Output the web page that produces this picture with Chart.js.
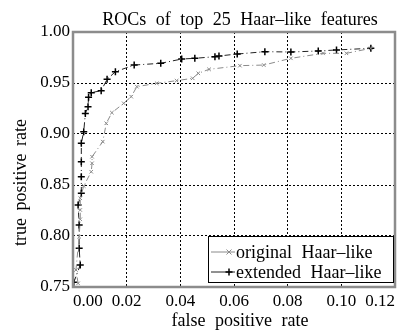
<!DOCTYPE html>
<html>
<head>
<meta charset="utf-8">
<script src="https://cdn.jsdelivr.net/npm/chart.js@4"></script>
<style>
  html, body { margin: 0; padding: 0; background: #fff; }
  #wrap { width: 403px; height: 331px; }
</style>
</head>
<body>
<div id="wrap"><canvas id="roc"></canvas></div>
<script>
// --- DATA ---
const titleText = 'ROCs of top 25 Haar–like features';
const xTitle = 'false positive rate';
const yTitle = 'true positive rate';
const seriesNames = ['original Haar–like', 'extended Haar–like'];

const fprOriginal = [0.0019, 0.0011, 0.0023, 0.0027, 0.0027, 0.0027, 0.0040, 0.0068, 0.0071, 0.0071,
  0.0111, 0.0124, 0.0145, 0.0189, 0.0217, 0.0238, 0.0312, 0.0386, 0.0446, 0.0467,
  0.0507, 0.0622, 0.0711, 0.0812, 0.0932, 0.1019, 0.1110];
const tprOriginal = [0.7536, 0.7667, 0.7993, 0.8164, 0.8255, 0.8370, 0.8490, 0.8630, 0.8713, 0.8777,
  0.8925, 0.9105, 0.9209, 0.9301, 0.9366, 0.9464, 0.9497, 0.9523, 0.9546, 0.9595,
  0.9634, 0.9670, 0.9676, 0.9742, 0.9791, 0.9791, 0.9840];

const fprExtended = [0.0003, 0.0027, 0.0023, 0.0023, 0.0019, 0.0031, 0.0031, 0.0031, 0.0031, 0.0040,
  0.0046, 0.0056, 0.0058, 0.0068, 0.0105, 0.0127, 0.0158, 0.0228, 0.0327, 0.0405,
  0.0454, 0.0529, 0.0544, 0.0612, 0.0715, 0.0812, 0.0914, 0.0982, 0.1110];
const tprExtended = [0.7546, 0.7716, 0.7880, 0.8108, 0.8304, 0.8419, 0.8581, 0.8728, 0.8909, 0.9023,
  0.9201, 0.9268, 0.9360, 0.9405, 0.9425, 0.9536, 0.9611, 0.9676, 0.9693, 0.9735,
  0.9742, 0.9758, 0.9765, 0.9784, 0.9807, 0.9804, 0.9814, 0.9824, 0.9840];

const toPoints = (xs, ys) => xs.map((x, i) => ({ x, y: ys[i] }));

const SERIF = '"Liberation Serif", "DejaVu Serif", serif';
const GRAY = '#8a8a8a';

// frame around the plot area
const framePlugin = {
  id: 'frame',
  afterDatasetsDraw(chart) {
    const { ctx, chartArea: a } = chart;
    ctx.save();
    ctx.strokeStyle = '#8c8c8c';
    ctx.lineWidth = 2.5;
    ctx.strokeRect(a.left, a.top, a.right - a.left, a.bottom - a.top);
    ctx.restore();
  }
};

// title and axis titles, placed like the original figure
const labels = {
  id: 'labels',
  afterDraw(chart) {
    const { ctx, chartArea: a } = chart;
    const cx = (a.left + a.right) / 2 + 6;
    ctx.save();
    ctx.fillStyle = '#000';
    ctx.font = '18px ' + SERIF;
    ctx.wordSpacing = '5px';
    ctx.textAlign = 'center';
    ctx.textBaseline = 'alphabetic';
    ctx.fillText(titleText, cx, a.top - 7);
    ctx.fillText(xTitle, cx, a.bottom + 39);
    ctx.translate(26, (a.top + a.bottom) / 2 + 23);
    ctx.rotate(-Math.PI / 2);
    ctx.wordSpacing = '3px';
    ctx.fillText(yTitle, 0, 0);
    ctx.restore();
  }
};

// legend box in the lower right corner
const boxLegend = {
  id: 'boxLegend',
  afterDraw(chart) {
    const { ctx, chartArea: a } = chart;
    const x0 = a.right - 187, y0 = a.bottom - 51, w = 185, h = 46;
    ctx.save();
    ctx.fillStyle = '#fff';
    ctx.fillRect(x0, y0, w, h);
    ctx.strokeStyle = '#000';
    ctx.lineWidth = 1;
    ctx.strokeRect(x0 + 0.5, y0 + 0.5, w, h);
    ctx.font = '18px ' + SERIF;
    ctx.wordSpacing = '5px';
    ctx.textBaseline = 'middle';
    chart.data.datasets.forEach((ds, i) => {
      const yy = y0 + 16 + i * 20;
      ctx.strokeStyle = ds.borderColor;
      ctx.lineWidth = 1;
      ctx.beginPath();
      ctx.moveTo(x0 + 3, yy);
      ctx.lineTo(x0 + 27, yy);
      ctx.stroke();
      const mx = x0 + 21, r = ds.pointRadius;
      ctx.strokeStyle = ds.pointBorderColor;
      ctx.lineWidth = ds.pointBorderWidth;
      ctx.beginPath();
      if (ds.pointStyle === 'crossRot') {
        ctx.moveTo(mx - r, yy - r); ctx.lineTo(mx + r, yy + r);
        ctx.moveTo(mx - r, yy + r); ctx.lineTo(mx + r, yy - r);
      } else {
        ctx.moveTo(mx - r, yy); ctx.lineTo(mx + r, yy);
        ctx.moveTo(mx, yy - r); ctx.lineTo(mx, yy + r);
      }
      ctx.stroke();
      ctx.fillStyle = '#000';
      ctx.fillText(ds.label, x0 + 28, yy + 1);
    });
    ctx.restore();
  }
};

new Chart(document.getElementById('roc'), {
  type: 'line',
  data: {
    datasets: [
      {
        label: seriesNames[0],
        data: toPoints(fprOriginal, tprOriginal),
        borderColor: GRAY,
        borderWidth: 1,
        borderDash: [6, 3, 1, 3],
        pointStyle: 'crossRot',
        pointRadius: 2.5,
        pointBorderColor: GRAY,
        pointBorderWidth: 1,
        tension: 0
      },
      {
        label: seriesNames[1],
        data: toPoints(fprExtended, tprExtended),
        borderColor: '#222',
        borderWidth: 1,
        borderDash: [6, 3, 1, 3],
        pointStyle: 'cross',
        pointRadius: 3.5,
        pointBorderColor: '#000',
        pointBorderWidth: 1.5,
        tension: 0
      }
    ]
  },
  options: {
    responsive: true,
    maintainAspectRatio: false,
    animation: false,
    layout: { padding: { left: 0, right: 8, top: 32, bottom: 0 } },
    plugins: {
      legend: { display: false },
      tooltip: { enabled: false },
      title: { display: false }
    },
    scales: {
      x: {
        type: 'linear',
        min: 0,
        max: 0.12,
        afterFit: (s) => { s.height = 44; s.paddingLeft = 0; s.paddingRight = 0; },
        ticks: {
          stepSize: 0.02,
          color: '#000',
          padding: 4,
          align: 'inner',
          font: { family: SERIF, size: 17 },
          callback: (v) => v.toFixed(2),
          maxRotation: 0
        },
        grid: { color: '#000', lineWidth: 1, drawTicks: false },
        border: { display: false, dash: [2, 2] }
      },
      y: {
        type: 'linear',
        min: 0.75,
        max: 1.0,
        afterFit: (s) => { s.width = 73; s.paddingTop = 0; s.paddingBottom = 0; },
        ticks: {
          stepSize: 0.05,
          color: '#000',
          padding: 3,
          font: { family: SERIF, size: 17 },
          callback: (v) => v.toFixed(2)
        },
        grid: { color: '#000', lineWidth: 1, drawTicks: false },
        border: { display: false, dash: [2, 2] }
      }
    }
  },
  plugins: [framePlugin, labels, boxLegend]
});
</script>
</body>
</html>
